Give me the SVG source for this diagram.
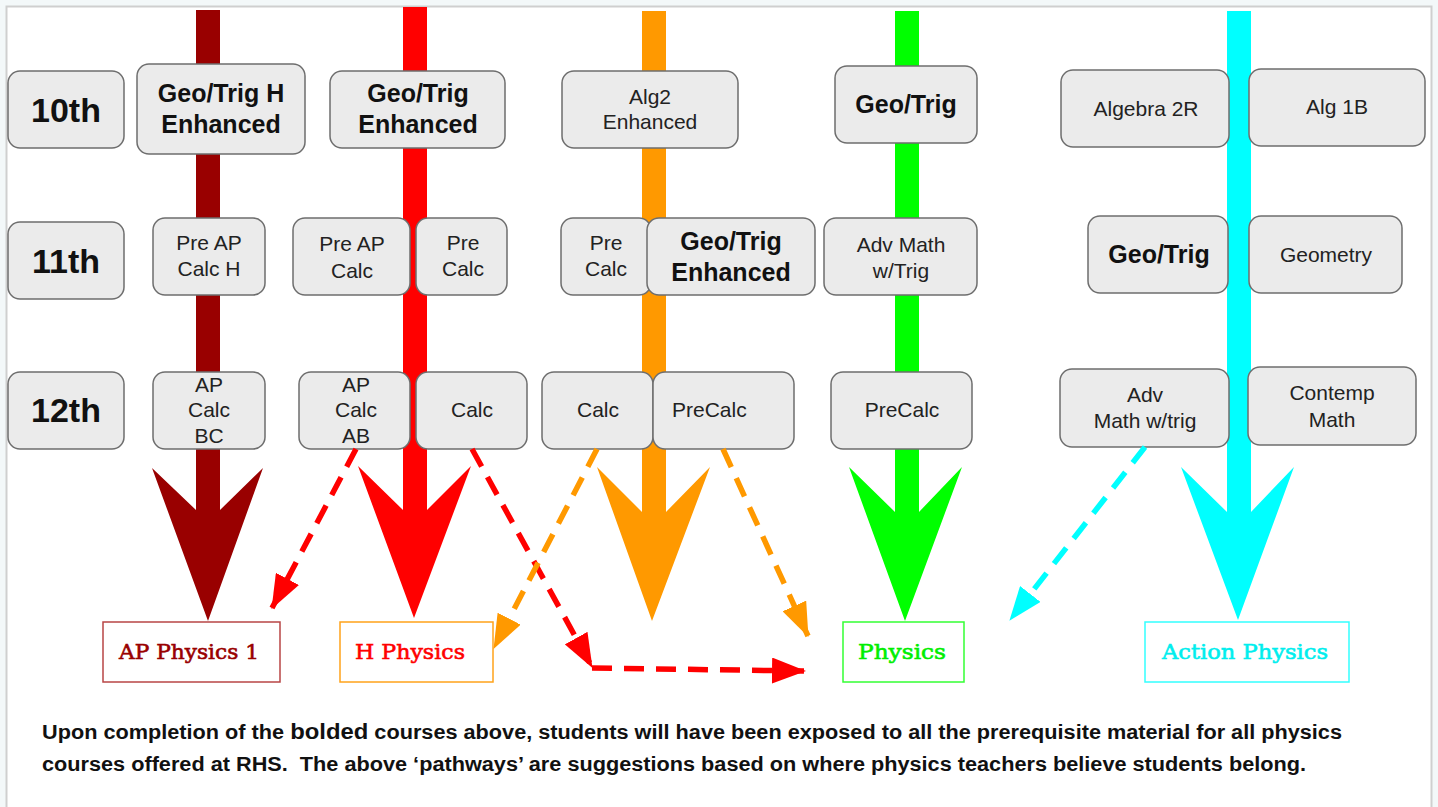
<svg xmlns="http://www.w3.org/2000/svg" width="1438" height="807" viewBox="0 0 1438 807">
<defs>
<style>
.box{fill:#ebebeb;stroke:#6e6e6e;stroke-width:1.5}
.t{font-family:"Liberation Sans",Arial,sans-serif;font-size:21px;fill:#222;text-anchor:middle}
.b{font-weight:bold;font-size:25px;fill:#111}
.g{font-weight:bold;font-size:34px;fill:#111}
.lab{font-family:"DejaVu Serif","Liberation Serif",serif;font-weight:normal;font-size:21px;stroke-width:0.6}
.lbox{fill:#fff;stroke-width:1.5}
.dash{fill:none;stroke-width:5.5;stroke-dasharray:20 12}
.note{font-family:"Liberation Sans",Arial,sans-serif;font-weight:bold;font-size:20px;fill:#111}
</style>
<marker id="mr" markerUnits="userSpaceOnUse" markerWidth="34" markerHeight="26" refX="33" refY="13" orient="auto"><path d="M0,0 L34,13 L0,26 z" fill="#ff0000"/></marker>
<marker id="mo" markerUnits="userSpaceOnUse" markerWidth="34" markerHeight="26" refX="33" refY="13" orient="auto"><path d="M0,0 L34,13 L0,26 z" fill="#ff9900"/></marker>
<marker id="mc" markerUnits="userSpaceOnUse" markerWidth="34" markerHeight="26" refX="33" refY="13" orient="auto"><path d="M0,0 L34,13 L0,26 z" fill="#00ffff"/></marker>
</defs>
<rect x="0" y="0" width="1438" height="807" fill="#f3f8f9"/>
<rect x="6.5" y="6.5" width="1425" height="820" fill="#ffffff" stroke="#cfcfcf" stroke-width="2"/>

<g id="pathway-arrows">
<polygon fill="#990000" points="196,10 220,10 220,510 263,468 208,621 152,468 196,510"/>
<polygon fill="#ff0000" points="403,7 427,7 427,510 471,466 414,618 358,466 403,510"/>
<polygon fill="#ff9900" points="642,11 666,11 666,512 710,467 652,621 597,467 642,512"/>
<polygon fill="#00ff00" points="895,11 919,11 919,512 962,467 905,621 849,467 895,512"/>
<polygon fill="#00ffff" points="1227,11 1251,11 1251,512 1294,467 1238,620 1181,467 1227,512"/>
</g>

<g id="grade-10"><rect class="box" x="8" y="71" width="116" height="77" rx="12"/><text class="t g" x="66" y="122">10th</text></g>
<g id="grade-11"><rect class="box" x="8" y="222" width="116" height="77" rx="12"/><text class="t g" x="66" y="273">11th</text></g>
<g id="grade-12"><rect class="box" x="8" y="372" width="116" height="77" rx="12"/><text class="t g" x="66" y="422">12th</text></g>

<g id="geotrig-h-enh"><rect class="box" x="137" y="64" width="168" height="90" rx="12"/><text class="t b" x="221" y="102">Geo/Trig H</text><text class="t b" x="221" y="133">Enhanced</text></g>
<g id="geotrig-enh-2"><rect class="box" x="330" y="71" width="175" height="77" rx="12"/><text class="t b" x="418" y="102">Geo/Trig</text><text class="t b" x="418" y="133">Enhanced</text></g>
<g id="alg2-enh"><rect class="box" x="562" y="71" width="176" height="77" rx="12"/><text class="t" x="650" y="104">Alg2</text><text class="t" x="650" y="129">Enhanced</text></g>
<g id="geotrig-4"><rect class="box" x="835" y="66" width="142" height="77" rx="12"/><text class="t b" x="906" y="113">Geo/Trig</text></g>
<g id="algebra-2r"><rect class="box" x="1061" y="70" width="168" height="77" rx="12"/><text class="t" x="1146" y="116">Algebra 2R</text></g>
<g id="alg-1b"><rect class="box" x="1249" y="69" width="176" height="77" rx="12"/><text class="t" x="1337" y="114">Alg 1B</text></g>

<g id="preap-calc-h"><rect class="box" x="153" y="218" width="112" height="77" rx="12"/><text class="t" x="209" y="250">Pre AP</text><text class="t" x="209" y="276">Calc H</text></g>
<g id="preap-calc"><rect class="box" x="293" y="218" width="117" height="77" rx="12"/><text class="t" x="352" y="251">Pre AP</text><text class="t" x="352" y="278">Calc</text></g>
<g id="precalc-2"><rect class="box" x="416" y="218" width="91" height="77" rx="12"/><text class="t" x="463" y="250">Pre</text><text class="t" x="463" y="276">Calc</text></g>
<g id="precalc-3"><rect class="box" x="561" y="218" width="90" height="77" rx="12"/><text class="t" x="606" y="250">Pre</text><text class="t" x="606" y="276">Calc</text></g>
<g id="geotrig-enh-3"><rect class="box" x="647" y="218" width="168" height="77" rx="12"/><text class="t b" x="731" y="250">Geo/Trig</text><text class="t b" x="731" y="281">Enhanced</text></g>
<g id="advmath-trig-4"><rect class="box" x="824" y="218" width="153" height="77" rx="12"/><text class="t" x="901" y="252">Adv Math</text><text class="t" x="901" y="278">w/Trig</text></g>
<g id="geotrig-5"><rect class="box" x="1088" y="216" width="140" height="77" rx="12"/><text class="t b" x="1159" y="263">Geo/Trig</text></g>
<g id="geometry"><rect class="box" x="1249" y="216" width="153" height="77" rx="12"/><text class="t" x="1326" y="262">Geometry</text></g>

<g id="ap-calc-bc"><rect class="box" x="153" y="372" width="112" height="77" rx="12"/><text class="t" x="209" y="392">AP</text><text class="t" x="209" y="417">Calc</text><text class="t" x="209" y="443">BC</text></g>
<g id="ap-calc-ab"><rect class="box" x="299" y="372" width="111" height="77" rx="12"/><text class="t" x="356" y="392">AP</text><text class="t" x="356" y="417">Calc</text><text class="t" x="356" y="443">AB</text></g>
<g id="calc-2"><rect class="box" x="416" y="372" width="111" height="77" rx="12"/><text class="t" x="472" y="417">Calc</text></g>
<g id="calc-3"><rect class="box" x="542" y="372" width="111" height="77" rx="12"/><text class="t" x="598" y="417">Calc</text></g>
<g id="precalc-3b"><rect class="box" x="653" y="372" width="141" height="77" rx="12"/><text class="t" x="672" y="417" style="text-anchor:start">PreCalc</text></g>
<g id="precalc-4"><rect class="box" x="831" y="372" width="141" height="77" rx="12"/><text class="t" x="902" y="417">PreCalc</text></g>
<g id="advmath-trig-5"><rect class="box" x="1060" y="369" width="169" height="78" rx="12"/><text class="t" x="1145" y="402">Adv</text><text class="t" x="1145" y="428">Math w/trig</text></g>
<g id="contemp-math"><rect class="box" x="1248" y="367" width="168" height="78" rx="12"/><text class="t" x="1332" y="400">Contemp</text><text class="t" x="1332" y="427">Math</text></g>

<g id="ap-physics-1"><rect class="lbox" x="103" y="622" width="177" height="60" stroke="#b84545"/><text class="lab" x="119" y="659" fill="#990000" stroke="#990000" textLength="140" lengthAdjust="spacingAndGlyphs">AP Physics 1</text></g>
<g id="h-physics"><rect class="lbox" x="340" y="622" width="153" height="60" stroke="#ffa31a"/><text class="lab" x="355" y="659" fill="#ff0000" stroke="#ff0000" textLength="110" lengthAdjust="spacingAndGlyphs">H Physics</text></g>
<g id="physics"><rect class="lbox" x="843" y="622" width="121" height="60" stroke="#33ff33"/><text class="lab" x="858" y="659" fill="#00ee00" stroke="#00ee00" textLength="88" lengthAdjust="spacingAndGlyphs">Physics</text></g>
<g id="action-physics"><rect class="lbox" x="1145" y="622" width="204" height="60" stroke="#33ffff"/><text class="lab" x="1162" y="659" fill="#00eeee" stroke="#00eeee" textLength="166" lengthAdjust="spacingAndGlyphs">Action Physics</text></g>

<g id="connectors">
<path class="dash" stroke="#ff0000" d="M356,449 L272,608" marker-end="url(#mr)"/>
<path class="dash" stroke="#ff0000" d="M472,449 L592,667" marker-end="url(#mr)"/>
<path class="dash" stroke="#ff0000" d="M592,668 L805,671" marker-end="url(#mr)"/>
<path class="dash" stroke="#ff9900" d="M597,449 L494,648" marker-end="url(#mo)"/>
<path class="dash" stroke="#ff9900" d="M723,449 L808,636" marker-end="url(#mo)"/>
<path class="dash" stroke="#00ffff" d="M1145,447 L1010,620" marker-end="url(#mc)"/>
</g>

<g id="note">
<text class="note" x="42" y="739" textLength="1300" lengthAdjust="spacingAndGlyphs">Upon completion of the <tspan style="font-size:22px">bolded</tspan> courses above, students will have been exposed to all the prerequisite material for all physics</text>
<text class="note" x="42" y="771" textLength="1264" lengthAdjust="spacingAndGlyphs">courses offered at RHS.&#160; The above ‘pathways’ are suggestions based on where physics teachers believe students belong.</text>
</g>
</svg>
